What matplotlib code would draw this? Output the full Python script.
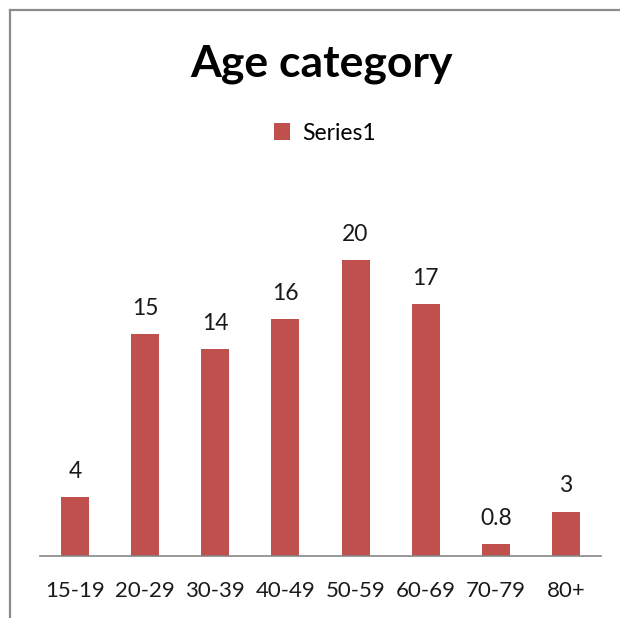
import matplotlib.pyplot as plt
from matplotlib.lines import Line2D

plt.rcParams['font.family'] = ['Lato', 'DejaVu Sans']

# 数据
categories = ['15-19', '20-29', '30-39', '40-49', '50-59', '60-69', '70-79', '80+']
values = [4, 15, 14, 16, 20, 17, 0.8, 3]
labels = ['4', '15', '14', '16', '20', '17', '0.8', '3']

fig = plt.figure(figsize=(6.2, 6.18), dpi=100)
fig.patch.set_facecolor('white')

# 图表外框（左、上可见）
fig.add_artist(Line2D([10/620, 10/620], [0, 1 - 10/618], color='#8c8c8c', lw=1.6))
fig.add_artist(Line2D([10/620, 1], [1 - 10/618, 1 - 10/618], color='#8c8c8c', lw=1.6))

ax = fig.add_axes([40/620, 62/618, 561/620, 370/618])
x = range(len(categories))
bars = ax.bar(x, values, width=0.4, color='#C0504D', label='Series1')
ax.set_xlim(-0.5, len(categories) - 0.5)
ax.set_ylim(0, 25)

for rect, lab in zip(bars, labels):
    ax.annotate(lab, (rect.get_x() + rect.get_width() / 2, rect.get_height()),
                xytext=(0, 11), textcoords='offset points', ha='center', va='bottom',
                fontsize=16.5, color='#1a1a1a')

ax.set_xticks(list(x))
ax.set_xticklabels(categories, fontsize=16, color='#1a1a1a')
ax.tick_params(axis='x', length=0, pad=18)
ax.set_yticks([])
for side in ['left', 'right', 'top']:
    ax.spines[side].set_visible(False)
ax.spines['bottom'].set_color('#868686')
ax.spines['bottom'].set_linewidth(1.2)

fig.text(321/620, 1 - 64/618, 'Age category', ha='center', va='center',
         fontsize=32, fontweight='bold', color='black')

fig.legend(handles=[bars], labels=['Series1'], loc='center',
           bbox_to_anchor=(325/620, 1 - 133/618), frameon=False,
           fontsize=16.5, handlelength=0.7, handleheight=0.7, handletextpad=0.5)

plt.savefig('out.png', dpi=100)
